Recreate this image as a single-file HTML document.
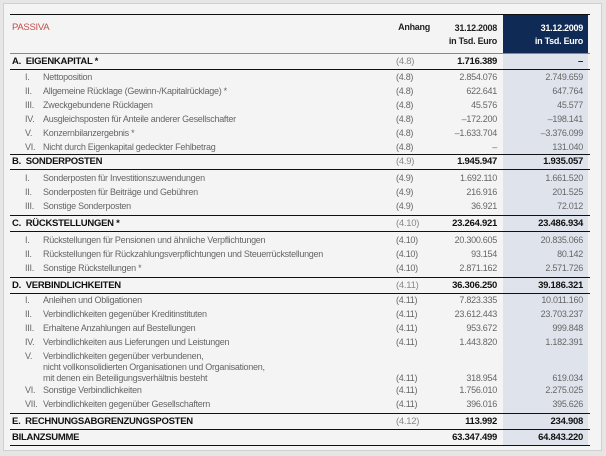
<!DOCTYPE html><html><head><meta charset="utf-8"><style>
body{margin:0;width:606px;height:456px;background:#e6e6e6;font-family:"Liberation Sans Narrow","Liberation Sans",sans-serif;font-size:9px;letter-spacing:-0.27px;color:#666;position:relative;overflow:hidden}
.panel{position:absolute;left:3px;top:3px;width:597px;height:446px;background:#f4f4f4;border:1px solid #d0d0d0}
.r{position:absolute;left:0;width:606px;height:12px;line-height:12px}
.r span{position:absolute;white-space:nowrap}
.n{left:25px}.t{left:43px}.a{left:396px}.v1{right:109px;text-align:right}.v2{right:23px;text-align:right}
.h{color:#111;font-weight:bold;font-size:9.5px}
.h .a{font-weight:normal;color:#888}
.ln{position:absolute;left:10px;width:580px;height:1px;background:#111}
.ln2{position:absolute;left:10px;width:580px;height:1px;background:#bbb}
.col{position:absolute;left:503px;width:85px;top:53px;height:393px;background:#dfe4ec}
.navy{position:absolute;left:503px;width:85px;top:14px;height:39px;background:#0f2a55}
</style></head><body>
<div class="panel"></div>
<div class="col"></div>
<div class="navy"></div>
<div class="ln" style="top:14px"></div>
<div class="ln2" style="top:53px;background:#888"></div>
<div style="position:absolute;left:12px;top:22px;color:#c0504d;font-size:9.5px">PASSIVA</div>
<div style="position:absolute;left:382px;top:22px;width:48px;text-align:right;color:#222;font-weight:bold">Anhang</div>
<div style="position:absolute;left:420px;top:22px;width:77px;text-align:right;color:#222;font-weight:bold;line-height:13px">31.12.2008<br>in Tsd. Euro</div>
<div style="position:absolute;left:503px;top:22px;width:80px;text-align:right;color:#fff;font-weight:bold;line-height:13px">31.12.2009<br>in Tsd. Euro</div>

<div class="r h" style="top:56px"><span style="left:12px">A.&nbsp; EIGENKAPITAL *</span><span class="a">(4.8)</span><span class="v1">1.716.389</span><span class="v2">–</span></div>
<div class="ln" style="top:69px"></div>
<div class="r" style="top:71px"><span class="n">I.</span><span class="t">Nettoposition</span><span class="a">(4.8)</span><span class="v1">2.854.076</span><span class="v2">2.749.659</span></div>
<div class="r" style="top:85px"><span class="n">II.</span><span class="t">Allgemeine Rücklage (Gewinn-/Kapitalrücklage) *</span><span class="a">(4.8)</span><span class="v1">622.641</span><span class="v2">647.764</span></div>
<div class="r" style="top:99px"><span class="n">III.</span><span class="t">Zweckgebundene Rücklagen</span><span class="a">(4.8)</span><span class="v1">45.576</span><span class="v2">45.577</span></div>
<div class="r" style="top:113px"><span class="n">IV.</span><span class="t">Ausgleichsposten für Anteile anderer Gesellschafter</span><span class="a">(4.8)</span><span class="v1">–172.200</span><span class="v2">–198.141</span></div>
<div class="r" style="top:127px"><span class="n">V.</span><span class="t">Konzernbilanzergebnis *</span><span class="a">(4.8)</span><span class="v1">–1.633.704</span><span class="v2">–3.376.099</span></div>
<div class="r" style="top:141px"><span class="n">VI.</span><span class="t">Nicht durch Eigenkapital gedeckter Fehlbetrag</span><span class="a">(4.8)</span><span class="v1">–</span><span class="v2">131.040</span></div>
<div class="ln" style="top:154px"></div>
<div class="r h" style="top:156px"><span style="left:12px">B.&nbsp; SONDERPOSTEN</span><span class="a">(4.9)</span><span class="v1">1.945.947</span><span class="v2">1.935.057</span></div>
<div class="ln" style="top:169px"></div>
<div class="r" style="top:172px"><span class="n">I.</span><span class="t">Sonderposten für Investitionszuwendungen</span><span class="a">(4.9)</span><span class="v1">1.692.110</span><span class="v2">1.661.520</span></div>
<div class="r" style="top:186px"><span class="n">II.</span><span class="t">Sonderposten für Beiträge und Gebühren</span><span class="a">(4.9)</span><span class="v1">216.916</span><span class="v2">201.525</span></div>
<div class="r" style="top:200px"><span class="n">III.</span><span class="t">Sonstige Sonderposten</span><span class="a">(4.9)</span><span class="v1">36.921</span><span class="v2">72.012</span></div>
<div class="ln" style="top:215px"></div>
<div class="r h" style="top:218px"><span style="left:12px">C.&nbsp; RÜCKSTELLUNGEN *</span><span class="a">(4.10)</span><span class="v1">23.264.921</span><span class="v2">23.486.934</span></div>
<div class="ln" style="top:231px"></div>
<div class="r" style="top:234px"><span class="n">I.</span><span class="t">Rückstellungen für Pensionen und ähnliche Verpflichtungen</span><span class="a">(4.10)</span><span class="v1">20.300.605</span><span class="v2">20.835.066</span></div>
<div class="r" style="top:248px"><span class="n">II.</span><span class="t">Rückstellungen für Rückzahlungsverpflichtungen und Steuerrückstellungen</span><span class="a">(4.10)</span><span class="v1">93.154</span><span class="v2">80.142</span></div>
<div class="r" style="top:262px"><span class="n">III.</span><span class="t">Sonstige Rückstellungen *</span><span class="a">(4.10)</span><span class="v1">2.871.162</span><span class="v2">2.571.726</span></div>
<div class="ln" style="top:277px"></div>
<div class="r h" style="top:280px"><span style="left:12px">D.&nbsp; VERBINDLICHKEITEN</span><span class="a">(4.11)</span><span class="v1">36.306.250</span><span class="v2">39.186.321</span></div>
<div class="ln" style="top:293px"></div>
<div class="r" style="top:294px"><span class="n">I.</span><span class="t">Anleihen und Obligationen</span><span class="a">(4.11)</span><span class="v1">7.823.335</span><span class="v2">10.011.160</span></div>
<div class="r" style="top:308px"><span class="n">II.</span><span class="t">Verbindlichkeiten gegenüber Kreditinstituten</span><span class="a">(4.11)</span><span class="v1">23.612.443</span><span class="v2">23.703.237</span></div>
<div class="r" style="top:322px"><span class="n">III.</span><span class="t">Erhaltene Anzahlungen auf Bestellungen</span><span class="a">(4.11)</span><span class="v1">953.672</span><span class="v2">999.848</span></div>
<div class="r" style="top:336px"><span class="n">IV.</span><span class="t">Verbindlichkeiten aus Lieferungen und Leistungen</span><span class="a">(4.11)</span><span class="v1">1.443.820</span><span class="v2">1.182.391</span></div>
<div class="r" style="top:350px"><span class="n">V.</span><span class="t">Verbindlichkeiten gegenüber verbundenen,</span></div>
<div class="r" style="top:361px"><span class="t">nicht vollkonsolidierten Organisationen und Organisationen,</span></div>
<div class="r" style="top:372px"><span class="t">mit denen ein Beteiligungsverhältnis besteht</span><span class="a">(4.11)</span><span class="v1">318.954</span><span class="v2">619.034</span></div>
<div class="r" style="top:384px"><span class="n">VI.</span><span class="t">Sonstige Verbindlichkeiten</span><span class="a">(4.11)</span><span class="v1">1.756.010</span><span class="v2">2.275.025</span></div>
<div class="r" style="top:398px"><span class="n">VII.</span><span class="t">Verbindlichkeiten gegenüber Gesellschaftern</span><span class="a">(4.11)</span><span class="v1">396.016</span><span class="v2">395.626</span></div>
<div class="ln" style="top:413px"></div>
<div class="r h" style="top:416px"><span style="left:12px">E.&nbsp; RECHNUNGSABGRENZUNGSPOSTEN</span><span class="a">(4.12)</span><span class="v1">113.992</span><span class="v2">234.908</span></div>
<div class="ln" style="top:429px"></div>
<div class="r h" style="top:432px"><span style="left:12px">BILANZSUMME</span><span class="v1">63.347.499</span><span class="v2">64.843.220</span></div>
<div class="ln" style="top:445px"></div>
</body></html>
